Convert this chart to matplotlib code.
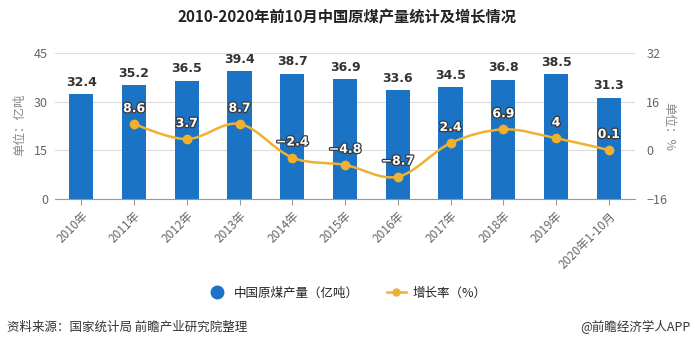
import matplotlib
matplotlib.use("Agg")
import matplotlib.pyplot as plt
import matplotlib.patheffects as pe
from matplotlib.path import Path
from matplotlib.patches import PathPatch
from matplotlib.lines import Line2D
import numpy as np

plt.rcParams['font.family'] = ['Noto Sans CJK SC', 'DejaVu Sans']

years = ["2010年", "2011年", "2012年", "2013年", "2014年", "2015年",
         "2016年", "2017年", "2018年", "2019年", "2020年1-10月"]
output = [32.4, 35.2, 36.5, 39.4, 38.7, 36.9, 33.6, 34.5, 36.8, 38.5, 31.3]
growth = [8.6, 3.7, 8.7, -2.4, -4.8, -8.7, 2.4, 6.9, 4, 0.1]
growth_labels = ["8.6", "3.7", "8.7", "−2.4", "−4.8", "−8.7", "2.4", "6.9", "4", "0.1"]

bar_color = "#1a73c4"
line_color = "#f0b030"
grid_color = "#dcdcdc"
tick_color = "#666666"

fig = plt.figure(figsize=(6.95, 3.47), dpi=100)
ax = fig.add_axes([0.079, 0.4265, 0.835, 0.4205])
ax2 = ax.twinx()

x = np.arange(len(years))
ax.bar(x, output, width=0.46, color=bar_color, zorder=2)
for xi, v in zip(x, output):
    ax.text(xi, v + 1.6, f"{v}", ha="center", va="bottom", fontsize=9,
            fontweight="bold", color="#333333", family="DejaVu Sans")

ax.set_xlim(-0.5, len(years) - 0.5)
ax.set_ylim(0, 45)
ax.set_yticks([0, 15, 30, 45])
ax.grid(axis="y", color=grid_color, linewidth=0.8, zorder=0)
ax.set_axisbelow(True)
for s in ["top", "left", "right"]:
    ax.spines[s].set_visible(False)
ax.spines["bottom"].set_color("#999999")
ax.tick_params(axis="y", length=0, labelsize=9, labelcolor=tick_color, pad=5)
ax.tick_params(axis="x", length=4, color="#999999", labelsize=8.5,
               labelcolor=tick_color)
ax.set_xticks(x)
ax.set_xticklabels(years, rotation=45, ha="right", rotation_mode="anchor")
fig.text(0.028, 0.64, "单位：亿吨", rotation=90, ha="center", va="center",
         fontsize=9, color="#888888")

# smooth growth curve (Catmull-Rom segments as cubic Beziers)
gx = x[1:].astype(float)
gy = np.array(growth, dtype=float)
pts = np.column_stack([gx, gy])
verts = [tuple(pts[0])]
codes = [Path.MOVETO]
t = 0.5
for i in range(len(pts) - 1):
    p0 = pts[i - 1] if i > 0 else pts[i]
    p1 = pts[i]
    p2 = pts[i + 1]
    p3 = pts[i + 2] if i + 2 < len(pts) else pts[i + 1]
    c1 = p1 + (p2 - p0) * t / 3
    c2 = p2 - (p3 - p1) * t / 3
    verts += [tuple(c1), tuple(c2), tuple(p2)]
    codes += [Path.CURVE4] * 3
ax2.add_patch(PathPatch(Path(verts, codes), fill=False, edgecolor=line_color,
                        linewidth=1.8, zorder=3))
ax2.plot(gx, gy, "o", color=line_color, markersize=6, zorder=4)
for xi, v, lab in zip(gx, gy, growth_labels):
    ax2.text(xi, v + 3.0, lab, ha="center", va="bottom", fontsize=9,
             fontweight="bold", color="white", family="DejaVu Sans", zorder=5,
             path_effects=[pe.withStroke(linewidth=1.8, foreground="#3a3a3a")])

ax2.set_ylim(-16, 32)
ax2.set_yticks([-16, 0, 16, 32])
for s in ["top", "left", "right", "bottom"]:
    ax2.spines[s].set_visible(False)
ax2.tick_params(axis="y", length=0, labelsize=9, labelcolor=tick_color, pad=8)
ax2.set_ylabel("单位：%", fontsize=9, color="#888888", rotation=-90, labelpad=6)

fig.text(0.5, 0.951, "2010-2020年前10月中国原煤产量统计及增长情况", ha="center",
         va="center", fontsize=11, fontweight="bold", color="#222222")

handles = [
    Line2D([], [], marker="o", linestyle="none", color=bar_color, markersize=9),
    Line2D([], [], marker="o", color=line_color, linewidth=1.8, markersize=5),
]
fig.legend(handles, ["中国原煤产量（亿吨）", "增长率（%）"], loc="center",
           bbox_to_anchor=(0.5, 0.155), ncol=2, frameon=False, fontsize=9,
           handlelength=1.5, columnspacing=2.2, handletextpad=0.6,
           labelcolor="#222222")

fig.text(0.01, 0.058, "资料来源：国家统计局 前瞻产业研究院整理", ha="left",
         va="center", fontsize=9, color="#333333")
fig.text(0.993, 0.058, "@前瞻经济学人APP", ha="right", va="center",
         fontsize=9, color="#333333")

fig.savefig("out.png", dpi=100)
